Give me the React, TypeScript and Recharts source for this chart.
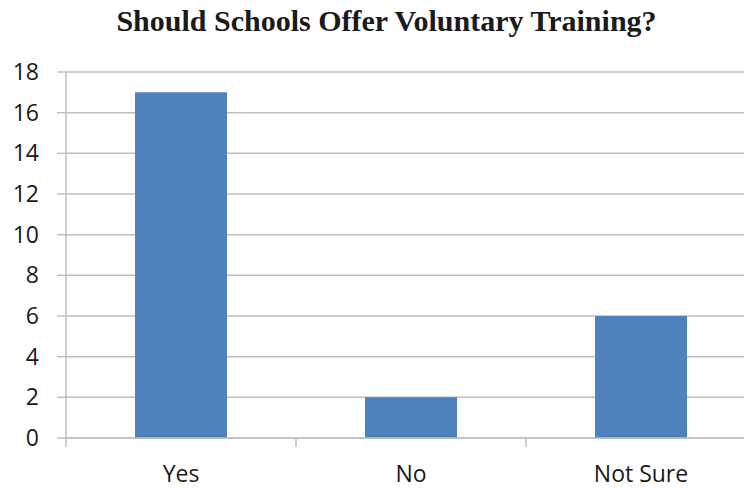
import { Bar, BarChart, CartesianGrid, XAxis, YAxis } from "recharts";

const categories = ["Yes", "No", "Not Sure"];
const responses = [17, 2, 6];
const yTicks = [0, 2, 4, 6, 8, 10, 12, 14, 16, 18];

const data = categories.map((answer, i) => ({ answer, count: responses[i] }));

const BLUE = "#4F81BD";
const GRID = "#BFBFBF";
const TICK_FONT = "'Open Sans', 'Noto Sans', sans-serif";

const CHART_W = 756;
const CHART_H = 490;
const Y_AXIS_W = 66;
const X_AXIS_H = 52;
const TOP = 72;
const HALF_BAND = (CHART_W - Y_AXIS_W) / categories.length / 2;

function CategoryTick(props: any) {
  const { x, y, payload } = props;
  return (
    <g>
      <line x1={x - HALF_BAND} y1={y} x2={x - HALF_BAND} y2={y + 9} stroke={GRID} strokeWidth={1.5} />
      <text x={x} y={y + 44} textAnchor="middle" fontSize={23} fontFamily={TICK_FONT} fill="#1a1a1a">
        {payload.value}
      </text>
    </g>
  );
}

export default function App() {
  return (
    <div style={{ position: "absolute", left: 0, top: 0, width: 744, height: 490, overflow: "hidden", background: "#fff" }}>
      <div
        style={{
          position: "absolute", left: 0, top: 4, width: 773, textAlign: "center",
          fontFamily: "'Liberation Serif', 'Times New Roman', serif", fontWeight: "bold", fontSize: 30, color: "#1a1a1a",
        }}
      >
        Should Schools Offer Voluntary Training?
      </div>
      <BarChart
        width={CHART_W}
        height={CHART_H}
        data={data}
        margin={{ top: TOP, right: 0, bottom: 0, left: 0 }}
        barCategoryGap="30%"
      >
        <CartesianGrid stroke={GRID} strokeWidth={1.5} vertical={false} />
        <XAxis
          dataKey="answer"
          height={X_AXIS_H}
          axisLine={{ stroke: GRID, strokeWidth: 1.5 }}
          tickLine={false}
          tickSize={0}
          tickMargin={0}
          tick={<CategoryTick />}
          interval={0}
        />
        <YAxis
          width={Y_AXIS_W}
          domain={[0, 18]}
          ticks={yTicks}
          interval={0}
          axisLine={{ stroke: GRID, strokeWidth: 1.5 }}
          tickLine={{ stroke: GRID, strokeWidth: 1.5 }}
          tickSize={9}
          tickMargin={18}
          tick={{ fontSize: 23, fontFamily: TICK_FONT, fill: "#1a1a1a" }}
        />
        <Bar dataKey="count" fill={BLUE} isAnimationActive={false} />
      </BarChart>
    </div>
  );
}
